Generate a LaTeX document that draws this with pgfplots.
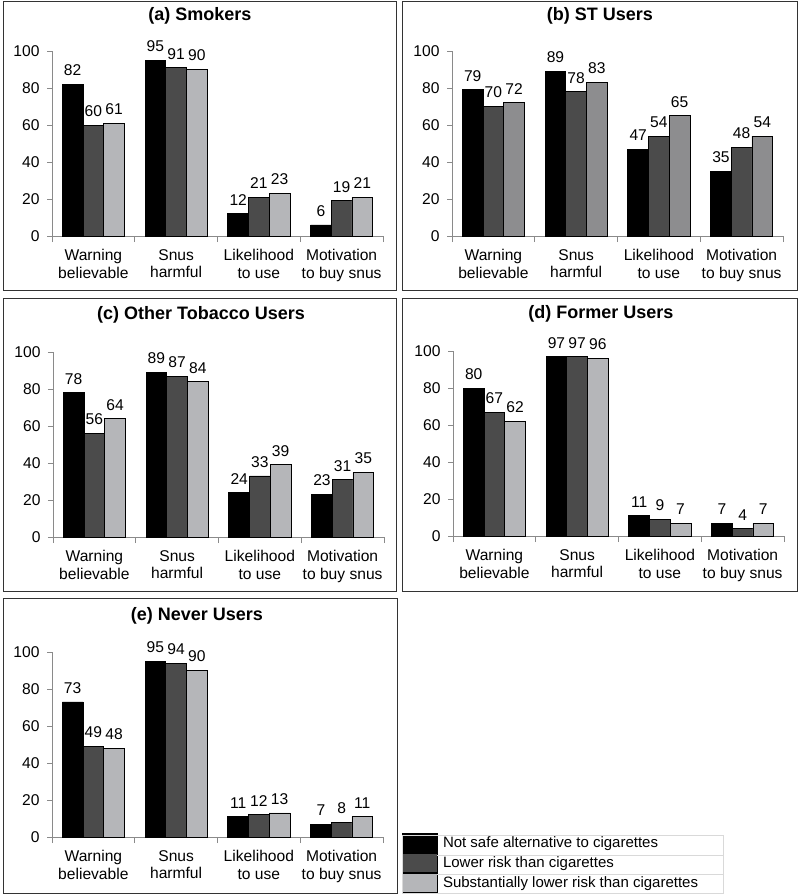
\documentclass[border=0pt]{standalone}
\usepackage{fontspec}
\setmainfont{Liberation Sans}
\usepackage{pgfplots}
\pgfplotsset{compat=1.18}
\definecolor{cA}{HTML}{000000}
\definecolor{cB}{HTML}{4B4B4B}
\definecolor{cC}{HTML}{B5B6B9}
\definecolor{cCb}{HTML}{8D8D8F}
\definecolor{axgray}{HTML}{8A8A8A}
\newcommand\fnt{\fontsize{15.6}{17.5}\selectfont}
\newcommand\lfnt{\fontsize{15}{17}\selectfont}
\newcommand\tfnt{\bfseries\fontsize{18}{20}\selectfont}
\pgfplotsset{
 /pgf/number format/assume math mode=true,
 panel/.style={
  scale only axis, width=331pt, height=185pt, anchor=south west,
  ybar=0pt, bar width=20.7pt,
  ymin=0, ymax=100, enlargelimits=false, xmin=-0.5, xmax=3.5,
  ytick={0,20,...,100},
  xtick={0,1,2,3},
  xticklabels={Warning\\believable,Snus\\harmful,Likelihood\\to use,Motivation\\to buy snus},
  minor xtick={-0.5,0.5,1.5,2.5,3.5},
  axis x line*=bottom, axis y line*=left,
  axis line style={-, axgray, line width=0.9pt},
  tick style={axgray, line width=0.9pt},
  major x tick style={draw=none},
  tick align=outside, major tick length=5pt, minor tick length=6pt,
  tick label style={font=\fnt, /pgf/number format/assume math mode=true},
  xticklabel style={align=center, yshift=-5pt},
  yticklabel style={xshift=-4pt},
  nodes near coords,
  every node near coord/.append style={font=\fnt, inner sep=0pt, yshift=8pt, text=black, fill=none, /pgf/number format/assume math mode=true},
  clip=false,
  legend image code/.code={\draw[##1] (0pt,-9.5pt) rectangle (35pt,9.5pt);},
 },
 s1/.style={fill=cA, draw=black, line width=0.8pt, bar shift=-20.7pt},
 s2/.style={fill=cB, draw=black, line width=0.8pt, bar shift=0pt},
 s3/.style={fill=cC, draw=black, line width=0.8pt, bar shift=20.7pt},
 s3b/.style={fill=cCb, draw=black, line width=0.8pt, bar shift=20.7pt},
}
\begin{document}
\begin{tikzpicture}
% frames
\draw[black!80, line width=1pt] (3pt,-1pt) rectangle (396pt,-290pt);
\draw[black!80, line width=1pt] (402pt,-1pt) rectangle (797pt,-290pt);
\draw[black!80, line width=1pt] (3pt,-298pt) rectangle (396pt,-591pt);
\draw[black!80, line width=1pt] (402pt,-298pt) rectangle (797pt,-591pt);
\draw[black!80, line width=1pt] (3pt,-598pt) rectangle (397pt,-893pt);
% titles
\node[font=\tfnt] at (200pt,-15.5pt) {(a) Smokers};
\node[font=\tfnt] at (600pt,-15.5pt) {(b) ST Users};
\node[font=\tfnt] at (201pt,-315pt) {(c) Other Tobacco Users};
\node[font=\tfnt] at (601pt,-314pt) {(d) Former Users};
\node[font=\tfnt] at (197pt,-615.5pt) {(e) Never Users};

\begin{axis}[panel, at={(52pt,-236pt)}]
\addplot[s1] coordinates {(0,82) (1,95) (2,12) (3,6)};
\addplot[s2] coordinates {(0,60) (1,91) (2,21) (3,19)};
\addplot[s3] coordinates {(0,61) (1,90) (2,23) (3,21)};
\end{axis}

\begin{axis}[panel, at={(452pt,-236pt)}]
\addplot[s1] coordinates {(0,79) (1,89) (2,47) (3,35)};
\addplot[s2] coordinates {(0,70) (1,78) (2,54) (3,48)};
\addplot[s3b] coordinates {(0,72) (1,83) (2,65) (3,54)};
\end{axis}

\begin{axis}[panel, at={(53pt,-537pt)}]
\addplot[s1] coordinates {(0,78) (1,89) (2,24) (3,23)};
\addplot[s2] coordinates {(0,56) (1,87) (2,33) (3,31)};
\addplot[s3] coordinates {(0,64) (1,84) (2,39) (3,35)};
\end{axis}

\begin{axis}[panel, at={(453pt,-536pt)}]
\addplot[s1] coordinates {(0,80) (1,97) (2,11) (3,7)};
\addplot[s2] coordinates {(0,67) (1,97) (2,9) (3,4)};
\addplot[s3] coordinates {(0,62) (1,96) (2,7) (3,7)};
\end{axis}

\begin{axis}[panel, at={(52pt,-837pt)},
  legend style={at={(1.0574,-0.3027)}, anchor=south west, draw=none,
    inner sep=0pt, row sep=0pt, font=\lfnt, nodes={inner sep=0pt},
    /tikz/every odd column/.append style={column sep=5pt}},
  legend cell align=left]
\addplot[s1] coordinates {(0,73) (1,95) (2,11) (3,7)};
\addplot[s2] coordinates {(0,49) (1,94) (2,12) (3,8)};
\addplot[s3] coordinates {(0,48) (1,90) (2,13) (3,11)};
\legend{Not safe alternative to cigarettes, Lower risk than cigarettes, Substantially lower risk than cigarettes}
\end{axis}
\draw[gray!30, line width=0.6pt] (402pt,-835pt) rectangle (723pt,-893pt);
\draw[gray!30, line width=0.6pt] (437pt,-855pt) -- (723pt,-855pt);
\draw[gray!30, line width=0.6pt] (437pt,-874pt) -- (723pt,-874pt);
\pgfresetboundingbox
\path (0pt,0pt) rectangle (800pt,-895pt);
\end{tikzpicture}
\end{document}
